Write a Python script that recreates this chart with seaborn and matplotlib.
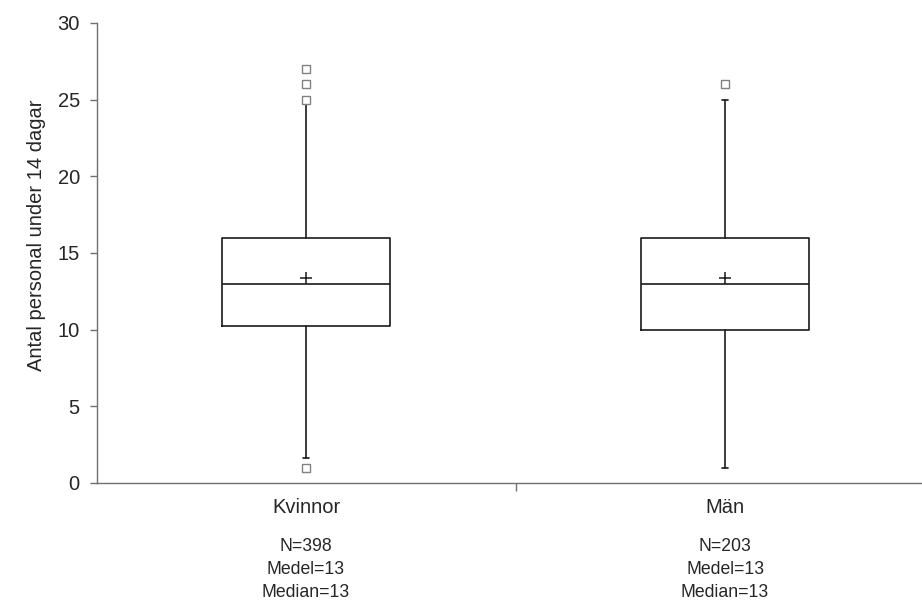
import matplotlib
matplotlib.use("Agg")
import matplotlib.pyplot as plt
import seaborn as sns

# Group labels and summary statistics per group
groups = ["Kvinnor", "Män"]
n_obs = [398, 203]
mean_label = [13, 13]
median_label = [13, 13]

medians = [13.0, 13.0]
means = [13.4, 13.4]
q1 = [10.25, 10.0]
q3 = [16.0, 16.0]
whisker_low = [1.65, 1.0]
whisker_high = [24.7, 25.0]
outliers = [[25.0, 26.0, 27.0, 1.0], [26.0]]

y_ticks = [0, 5, 10, 15, 20, 25, 30]

sns.set_style("white")
plt.rcParams["font.family"] = ["Liberation Sans", "DejaVu Sans"]

fig = plt.figure(figsize=(9.22, 6.02), dpi=100)
ax = fig.add_axes([96.5 / 922, 119 / 602, 825.5 / 922, 460 / 602])

stats = []
for i, g in enumerate(groups):
    stats.append(dict(
        label=g, med=medians[i], mean=means[i], q1=q1[i], q3=q3[i],
        whislo=whisker_low[i], whishi=whisker_high[i], fliers=outliers[i],
    ))

positions = [0.5 + i for i in range(len(groups))]
line_col = "#1a1a1a"
ax.bxp(
    stats, positions=positions, widths=0.4, showmeans=True,
    showcaps=True, capwidths=0.014, patch_artist=False,
    boxprops=dict(color=line_col, linewidth=1.2),
    medianprops=dict(color=line_col, linewidth=1.2),
    whiskerprops=dict(color=line_col, linewidth=1.2),
    capprops=dict(color=line_col, linewidth=1.2),
    meanprops=dict(marker="+", markersize=9, markeredgecolor=line_col,
                   markeredgewidth=1.1),
    flierprops=dict(marker="s", markersize=6, markerfacecolor="white",
                    markeredgecolor="#808080", markeredgewidth=1.0),
)

ax.set_xlim(0, 825.5 / 419)
ax.set_ylim(0, 30)
ax.set_yticks(y_ticks)
ax.set_yticklabels([str(t) for t in y_ticks], fontsize=14.5)
ax.set_xticks([1.0])
ax.set_xticklabels([""])
ax.tick_params(axis="y", direction="out", length=5, width=1, color="#707070",
               pad=7, left=True)
ax.tick_params(axis="x", direction="out", length=6, width=1, color="#707070",
               bottom=True)

for side in ["top", "right"]:
    ax.spines[side].set_visible(False)
for side in ["left", "bottom"]:
    ax.spines[side].set_color("#707070")
    ax.spines[side].set_linewidth(1.0)

ax.set_ylabel("Antal personal under 14 dagar", fontsize=14.5)
ax.yaxis.set_label_coords((46 - 96.5) / 825.5, 0.539)

# Group names and summary text under the axis
for i, g in enumerate(groups):
    ax.text(positions[i], -1.57, g, ha="center", va="center", fontsize=14.5,
            transform=ax.transData, clip_on=False)
    info = [f"N={n_obs[i]}", f"Medel={mean_label[i]}", f"Median={median_label[i]}"]
    for j, line in enumerate(info):
        ax.text(positions[i], -4.17 - j * 1.47, line, ha="center", va="center",
                fontsize=12.7, transform=ax.transData, clip_on=False)

fig.savefig("out.png", dpi=100)
